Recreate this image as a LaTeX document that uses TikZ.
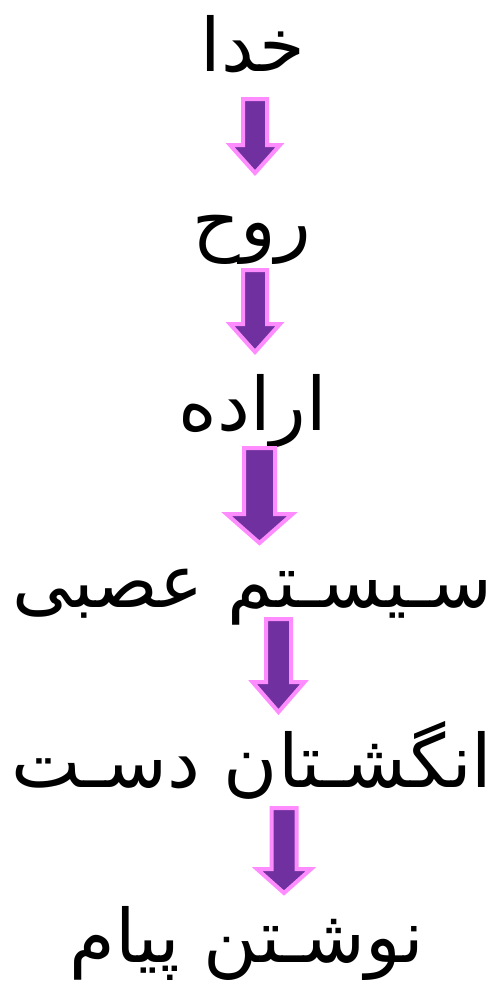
\documentclass[tikz,border=0pt]{standalone}
\usepackage{fontspec}
\newfontfamily\arabicfont[Script=Arabic]{DejaVu Sans}
\TeXXeTstate=1
\usepackage{xcolor}
\usepackage{tikz}
\definecolor{arrowfill}{RGB}{112,48,160}
\definecolor{arrowline}{RGB}{255,140,255}
\newcommand{\fatext}[1]{{\arabicfont\beginR #1\endR}}
% block arrow: centre x, top, neck, tip, shaft half, head half
\newcommand{\blockarrow}[6]{%
	\draw[blockarr] ({#1-#5},#2) -- ({#1+#5},#2) -- ({#1+#5},#3) -- ({#1+#6},#3)
	-- (#1,#4) -- ({#1-#6},#3) -- ({#1-#5},#3) -- cycle;}
\tikzset{
	blockarr/.style={fill=arrowfill,draw=arrowline,line width=0.08cm,line join=miter},
	lbl/.style={anchor=base,inner sep=0pt,font=\fontsize{42}{50}\selectfont}
}
\begin{document}
\begin{tikzpicture}[x=0.02cm,y=-0.02cm]
		\useasboundingbox (0,0) rectangle (502,984);
		%
		\node[lbl] (khoda) at (253,71) {\fatext{خدا}};
		\node[lbl] (ruh) at (252,246) {\fatext{روح}};
		\node[lbl] (eradeh) at (253,430) {\fatext{اراده}};
		\node[lbl] (asab) at (252,607) {\fatext{سـیسـتم عصبی}};
		\node[lbl] (angosht) at (252,787) {\fatext{انگشـتان دسـت}};
		\node[lbl] (payam) at (247,962) {\fatext{نوشـتن پیام}};
		%
		\blockarrow{255}{99}{145}{173}{12}{25}
		\blockarrow{255}{270}{324}{352}{12}{25}
		\blockarrow{259.5}{448}{514}{543}{15.5}{33}
		\blockarrow{278.5}{619}{682}{712}{12.5}{26}
		\blockarrow{284}{808}{869}{893}{12.5}{27}
	\end{tikzpicture}
\end{document}
